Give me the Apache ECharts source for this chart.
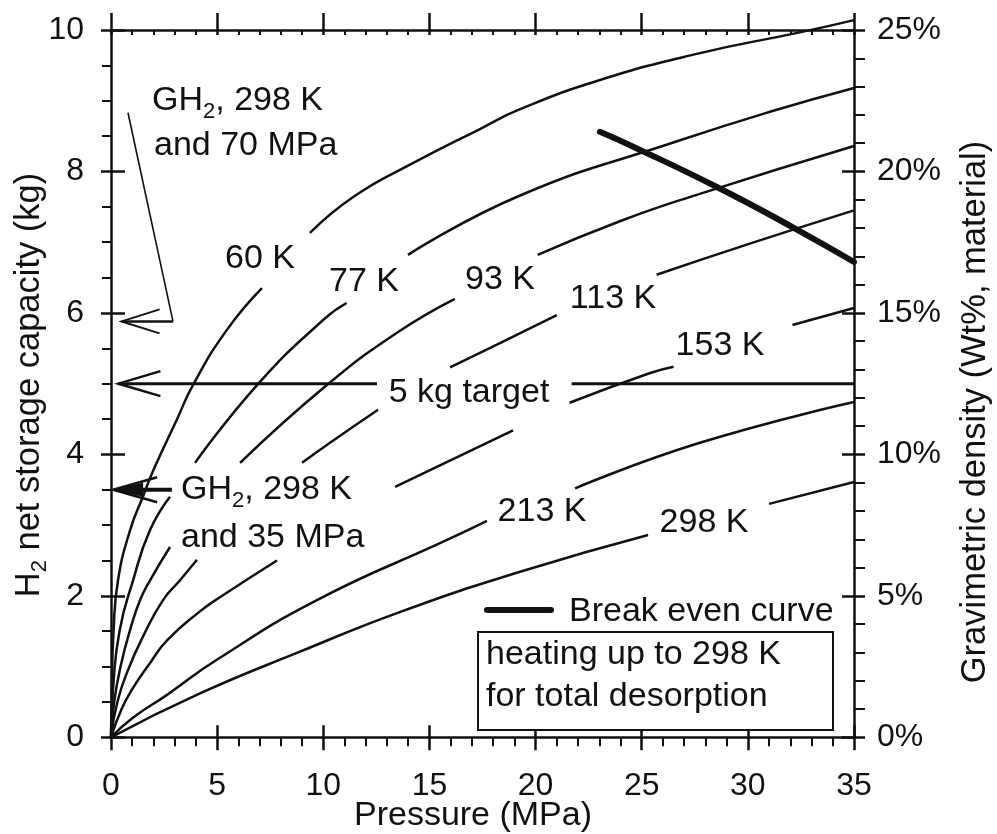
<!DOCTYPE html>
<html>
<head>
<meta charset="utf-8">
<script src="https://cdn.jsdelivr.net/npm/echarts@6.0.0/dist/echarts.min.js"></script>
<style>html,body{margin:0;padding:0;background:#fff}#c{width:997px;height:834px}</style>
</head>
<body>
<div id="c"></div>
<script>
// ---------------- data ----------------
const pressureRange = [0, 35];          // MPa
const capacityRange = [0, 10];          // kg
const gravRange = [0, 25];              // Wt%
const temps = ['60 K', '77 K', '93 K', '113 K', '153 K', '213 K', '298 K'];

// null = gap in the drawn curve (where a label sits)
const curve60K = [[0,0],[0.04,0.7],[0.12,1.5],[0.33,2.22],[0.9,2.93],[1.5,3.4],[2.0,3.78],[3.1,4.49],[3.86,4.98],[5.46,5.76],[7.11,6.35],null,
  [9.37,7.13],[11.41,7.64],[14.24,8.12],[17.38,8.6],[19.27,8.88],[23.0,9.29],[27.7,9.67],[32.5,9.97],[35,10.14]];
const curve77K = [[0,0],[0.1,0.7],[0.4,1.5],[1.04,2.22],[1.84,2.93],[2.78,3.4],null,
  [3.96,3.88],[6.88,4.98],[9.99,5.9],[11.1,6.14],null,
  [13.99,6.82],[19.27,7.66],[26.7,8.43],[31,8.84],[35,9.18]];
const curve93K = [[0,0],[0.15,0.5],[0.45,1.0],[0.9,1.52],[1.37,1.94],[1.84,2.22],[2.78,2.69],null,
  [6.08,3.88],[10.17,4.98],[13.47,5.72],[16.2,6.2],null,
  [20.1,6.82],[24,7.3],[27.7,7.68],[35,8.36]];
const curve113K = [[0,0],[0.3,0.5],[0.8,0.95],[1.5,1.42],[2.45,1.94],[3.25,2.22],[4.05,2.51],null,
  [9.0,3.88],[10.3,4.16],[12.58,4.63],null,
  [15.97,5.23],[18.3,5.57],[21.0,5.97],null,
  [25.7,6.54],[30.2,6.99],[35,7.45]];
const curve153K = [[0,0],[0.5,0.4],[1.0,0.68],[1.84,1.05],[2.64,1.37],[4.19,1.78],[5.13,1.98],[7.82,2.5],null,
  [13.38,3.54],[18.94,4.34],null,
  [21.6,4.73],[25.4,5.15],[26.5,5.24],null,
  [32.1,5.83],[35,6.07]];
const curve213K = [[0,0],[1.0,0.27],[2.64,0.6],[5.0,1.1],[9.7,1.94],[15.83,2.79],[17.71,3.06],null,
  [21.86,3.52],[27.7,4.16],[35,4.74]];
const curve298K = [[0,0],[4.19,0.62],[8.9,1.21],[13.6,1.77],[19.27,2.34],[25.3,2.86],null,
  [31.0,3.3],[35,3.61]];
const breakEven = [[23.03,8.56],[24.6,8.35],[28.54,7.78],[32.12,7.21],[35,6.72]];
const target5kg = [[0.35,5],[12.53,5],null,[21.7,5],[35,5]];
const gh2At70MPa = 5.88;   // kg, arrow target
const gh2At35MPa = 3.5;    // kg, arrow target

// ---------------- helpers ----------------
const F = '"Liberation Sans", Arial, Helvetica, sans-serif';
const INK = '#111';
const FS = 34;
function withGaps(arr) {
  return arr.map((d, i) => d ? d : [(arr[i - 1][0] + arr[i + 1][0]) / 2, '-']);
}
function curveSeries(name, arr, width, extra) {
  return Object.assign({
    name, type: 'line', data: withGaps(arr), showSymbol: false, symbol: 'none',
    smooth: 0.5, connectNulls: false,
    lineStyle: { color: INK, width: width },
    xAxisIndex: 0, yAxisIndex: 0, silent: true
  }, extra || {});
}

const chart = echarts.init(document.getElementById('c'), null, { renderer: 'canvas' });

const axisLineStyle = { color: INK, width: 2.5 };
function xAx(pos, inside, len, opts) {
  return Object.assign({
    type: 'value', position: pos, min: pressureRange[0], max: pressureRange[1], interval: 5,
    axisLine: { show: false, lineStyle: axisLineStyle, onZero: false },
    axisTick: { show: true, inside, length: len, lineStyle: { color: INK, width: 2.5 } },
    minorTick: { show: false },
    splitLine: { show: false }, minorSplitLine: { show: false },
    axisLabel: { show: false }
  }, opts || {});
}
function yAx(pos, inside, len, range, interval, opts) {
  return Object.assign({
    type: 'value', position: pos, min: range[0], max: range[1], interval,
    axisLine: { show: false, lineStyle: axisLineStyle, onZero: false },
    axisTick: { show: true, inside, length: len, lineStyle: { color: INK, width: 2.5 } },
    minorTick: { show: false },
    splitLine: { show: false }, minorSplitLine: { show: false },
    axisLabel: { show: false }
  }, opts || {});
}

const option = {
  animation: false,
  backgroundColor: '#fff',
  grid: { left: 111, right: 143, top: 30, bottom: 96.7, containLabel: false, outerBoundsMode: 'none' },
  xAxis: [
    xAx('bottom', false, 13, {
      axisLine: { show: true, lineStyle: axisLineStyle, onZero: false },
      minorTick: { show: true, splitNumber: 5, length: 9, lineStyle: { color: INK, width: 2 } },
      axisLabel: { show: true, margin: 33, color: INK, fontSize: 32, fontFamily: F, showMinLabel: true, showMaxLabel: true }
    }),
    xAx('bottom', true, 12),
    xAx('top', false, 17, { axisLine: { show: true, lineStyle: axisLineStyle, onZero: false } }),
    xAx('top', true, 5, { minorTick: { show: true, splitNumber: 5, length: 5, lineStyle: { color: INK, width: 2 } } })
  ],
  yAxis: [
    yAx('left', false, 10, capacityRange, 2, {
      axisLine: { show: true, lineStyle: axisLineStyle, onZero: false },
      minorTick: { show: true, splitNumber: 4, length: 9, lineStyle: { color: INK, width: 2 } },
      axisLabel: { show: true, margin: 27, color: INK, fontSize: 32, fontFamily: F, showMinLabel: true, showMaxLabel: true }
    }),
    yAx('left', true, 14, capacityRange, 2),
    yAx('right', false, 11, gravRange, 5, {
      axisLine: { show: true, lineStyle: axisLineStyle, onZero: false },
      minorTick: { show: true, splitNumber: 5, length: 11, lineStyle: { color: INK, width: 2 } },
      axisLabel: { show: true, margin: 23, color: INK, fontSize: 32, fontFamily: F, formatter: '{value}%', showMinLabel: true, showMaxLabel: true }
    }),
    yAx('right', true, 12, gravRange, 5)
  ],
  series: [
    curveSeries(temps[0], curve60K, 2.5, { clip: false }),
    curveSeries(temps[1], curve77K, 2.5),
    curveSeries(temps[2], curve93K, 2.5),
    curveSeries(temps[3], curve113K, 2.5),
    curveSeries(temps[4], curve153K, 2.5),
    curveSeries(temps[5], curve213K, 2.5),
    curveSeries(temps[6], curve298K, 2.5),
    curveSeries('5 kg target', target5kg, 3, { smooth: false }),
    curveSeries('Break even curve', breakEven, 6, { clip: false, lineStyle: { color: INK, width: 6, cap: 'round' } })
  ]
};
chart.setOption(option);

// ---------------- annotations ----------------
const toPx = d => chart.convertToPixel({ xAxisIndex: 0, yAxisIndex: 0 }, d);
const baseText = { fill: INK, fontSize: FS, fontFamily: F, verticalAlign: 'middle' };
function text(x, y, str, align, extra) {
  return { type: 'text', x, y, z: 20, silent: true,
    style: Object.assign({}, baseText, { text: str, align: align || 'center' }, extra || {}) };
}
const gh2Rich = {
  a: { fontSize: FS, fontFamily: F, fill: INK, lineHeight: 44, verticalAlign: 'middle' },
  s: { fontSize: 22, fontFamily: F, fill: INK, lineHeight: 16, verticalAlign: 'bottom' }
};
function line(points, width) {
  return { type: 'polyline', z: 15, silent: true, shape: { points },
    style: { stroke: INK, lineWidth: width, fill: null, lineJoin: 'miter' } };
}
function arrowHead(tip, back, half, width) {
  return line([[tip[0] + back, tip[1] - half], tip, [tip[0] + back, tip[1] + half]], width);
}

const curveLabelPos = {
  '60 K': [260, 259], '77 K': [364, 282], '93 K': [500, 280], '113 K': [613, 299],
  '153 K': [720, 346], '213 K': [542, 512], '298 K': [704, 523]
};

const g = [];
temps.forEach(t => g.push(text(curveLabelPos[t][0], curveLabelPos[t][1], t, 'center')));
g.push(text(469, 393, '5 kg target', 'center'));

// 5 kg arrow head
const tTip = toPx(target5kg[0]);
g.push(arrowHead(tTip, 42, 12.5, 2.5));

// GH2 at 70 MPa
const a70tip = toPx([0.5, gh2At70MPa]);
const a70corner = toPx([2.92, gh2At70MPa]);
const a70start = toPx([0.8, 8.83]);
g.push(line([a70start, a70corner], 1.6));
g.push(line([a70corner, a70tip], 2.5));
g.push(arrowHead(a70tip, 38, 12, 2));
g.push({ type: 'text', x: 152, y: 101, z: 20, silent: true,
  style: { text: '{a|GH}{s|2}{a|, 298 K}', rich: gh2Rich, align: 'left', verticalAlign: 'middle', fill: INK, fontSize: FS, fontFamily: F } });
g.push(text(154, 146, 'and 70 MPa', 'left'));

// GH2 at 35 MPa
const a35tip = toPx([0.1, gh2At35MPa]);
const a35end = toPx([2.87, gh2At35MPa]);
g.push(line([[a35tip[0] + 20, a35tip[1]], a35end], 4));
g.push({ type: 'polygon', z: 16, silent: true,
  shape: { points: [a35tip, [a35tip[0] + 30, a35tip[1] - 7], [a35tip[0] + 30, a35tip[1] + 7]] },
  style: { fill: INK } });
g.push(arrowHead(a35tip, 44, 12.5, 2.5));
g.push({ type: 'text', x: 181, y: 490, z: 20, silent: true,
  style: { text: '{a|GH}{s|2}{a|, 298 K}', rich: gh2Rich, align: 'left', verticalAlign: 'middle', fill: INK, fontSize: FS, fontFamily: F } });
g.push(text(181, 538, 'and 35 MPa', 'left'));

// legend
g.push({ type: 'line', z: 20, silent: true, shape: { x1: 487, y1: 610, x2: 551, y2: 610 },
  style: { stroke: INK, lineWidth: 6, lineCap: 'round' } });
g.push(text(569, 612, 'Break even curve', 'left'));
g.push({ type: 'rect', z: 18, silent: true, shape: { x: 478, y: 632, width: 355, height: 98 },
  style: { fill: '#fff', stroke: INK, lineWidth: 2 } });
g.push(text(486, 655, 'heating up to 298 K', 'left'));
g.push(text(486, 697, 'for total desorption', 'left'));

// axis titles
g.push(text(473, 816, 'Pressure (MPa)', 'center', { fontSize: 34 }));
g.push({ type: 'text', x: 29, y: 385, rotation: Math.PI / 2, z: 20, silent: true,
  style: { text: '{a|H}{s|2}{a| net storage capacity (kg)}', align: 'center', verticalAlign: 'middle',
    fill: INK, fontSize: 34.5, fontFamily: F,
    rich: {
      a: { fontSize: 34.5, fontFamily: F, fill: INK, lineHeight: 44, verticalAlign: 'middle' },
      s: { fontSize: 22, fontFamily: F, fill: INK, lineHeight: 16, verticalAlign: 'bottom' }
    } } });
g.push({ type: 'text', x: 975, y: 412, rotation: Math.PI / 2, z: 20, silent: true,
  style: { text: 'Gravimetric density (Wt%, material)', align: 'center', verticalAlign: 'middle',
    fill: INK, fontSize: 34.5, fontFamily: F } });

chart.setOption({ graphic: g });
</script>
</body>
</html>
